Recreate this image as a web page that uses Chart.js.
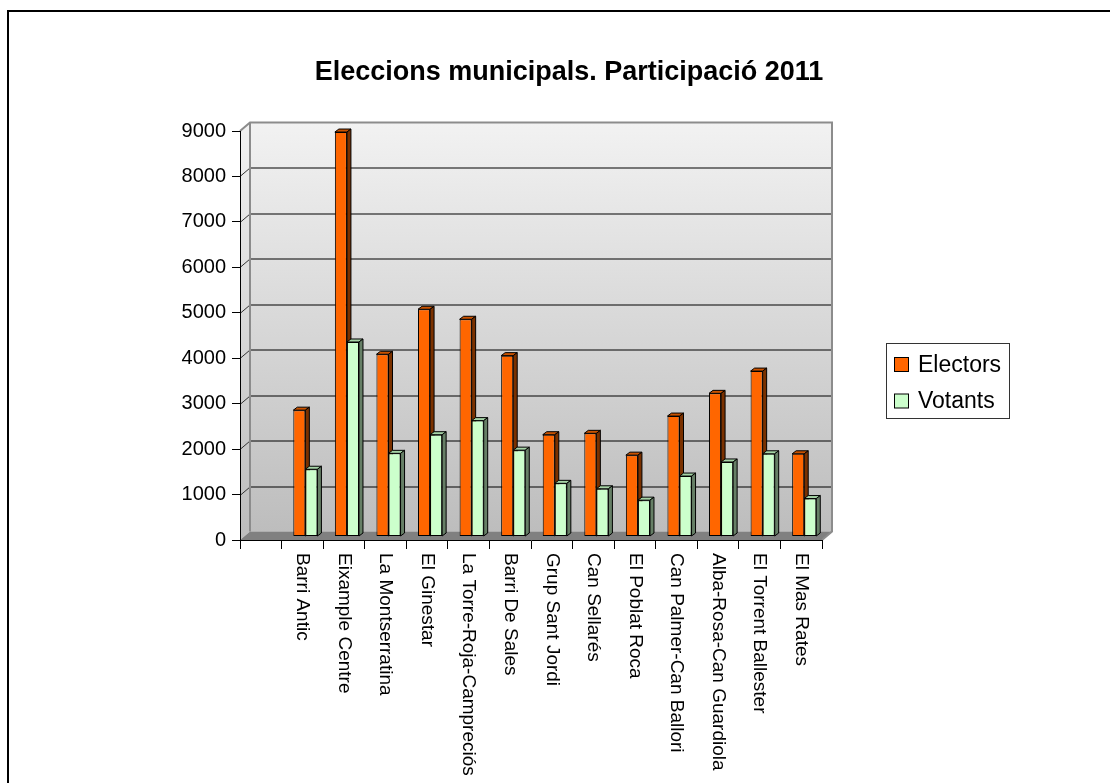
<!DOCTYPE html>
<html>
<head>
<meta charset="utf-8">
<script src="https://cdn.jsdelivr.net/npm/chart.js@4/dist/chart.umd.min.js"></script>
<style>
  body { margin: 0; background: #fff; }
  #wrap { width: 1110px; height: 783px; }
</style>
</head>
<body>
<div id="wrap"><canvas id="chart" width="1110" height="783"></canvas></div>
<script>
// chart data
const chartTitle = 'Eleccions municipals. Participació 2011';
const categories = ['', 'Barri Antic', 'Eixample Centre', 'La Montserratina', 'El Ginestar',
    'La Torre-Roja-Campreciós', 'Barri De Sales', 'Grup Sant Jordi', 'Can Sellarés',
    'El Poblat Roca', 'Can Palmer-Can Ballori', 'Alba-Rosa-Can Guardiola',
    'El Torrent Ballester', 'El Mas Rates'];
const electors = [null, 2780, 8900, 4010, 5000, 4780, 3980, 2240, 2270, 1790, 2650, 3150, 3640, 1820];
const votants = [null, 1480, 4280, 1830, 2240, 2550, 1900, 1170, 1050, 800, 1330, 1640, 1820, 835];
const yMax = 9000;
const yStep = 1000;

const FONT = '"Liberation Sans", Arial, sans-serif';

// 3d look: wall depth, bar shift and bar depth
const WALL = { dx: 10, dy: -8.5 };
const SHIFT = { dx: 3, dy: -3.5 };
const DEPTH = { dx: 4, dy: -3 };

const faceColors = [
    { top: '#c95200', side: '#7a3100' },
    { top: '#a6d4a6', side: '#667f66' }
];

function poly(ctx, pts, fill, stroke) {
    ctx.beginPath();
    ctx.moveTo(pts[0][0], pts[0][1]);
    for (let i = 1; i < pts.length; i++) ctx.lineTo(pts[i][0], pts[i][1]);
    ctx.closePath();
    if (fill) { ctx.fillStyle = fill; ctx.fill(); }
    if (stroke) { ctx.strokeStyle = stroke; ctx.lineWidth = 1; ctx.stroke(); }
}

// walls, floor and gridlines behind the bars
const walls = {
    id: 'walls',
    beforeDraw(chart) {
        const ctx = chart.ctx;
        const a = chart.chartArea;
        const y = chart.scales.y;
        const L = a.left, R = a.right, T = a.top, B = a.bottom;
        const dx = WALL.dx, dy = WALL.dy;
        ctx.save();

        // outer frame
        ctx.strokeStyle = '#000';
        ctx.lineWidth = 2;
        ctx.beginPath();
        ctx.moveTo(8, 800);
        ctx.lineTo(8, 11);
        ctx.lineTo(1120, 11);
        ctx.stroke();

        const g = ctx.createLinearGradient(0, T + dy, 0, B + dy);
        g.addColorStop(0, '#f2f2f2');
        g.addColorStop(1, '#bdbdbd');
        poly(ctx, [[L + dx, T + dy], [R + dx, T + dy], [R + dx, B + dy], [L + dx, B + dy]], g);
        poly(ctx, [[L, T], [L + dx, T + dy], [L + dx, B + dy], [L, B]], g);
        poly(ctx, [[L, B], [L + dx, B + dy], [R + dx, B + dy], [R, B]], '#808080');

        // gridlines on back wall
        ctx.lineWidth = 1;
        for (let v = yStep; v < yMax; v += yStep) {
            const py = Math.round(y.getPixelForValue(v)) + 0.5;
            ctx.strokeStyle = '#000';
            ctx.beginPath();
            ctx.moveTo(L + dx, py + dy);
            ctx.lineTo(R + dx, py + dy);
            ctx.stroke();
            ctx.strokeStyle = '#333';
            ctx.beginPath();
            ctx.moveTo(L, py);
            ctx.lineTo(L + dx, py + dy);
            ctx.stroke();
        }

        // wall edges
        ctx.strokeStyle = '#8c8c8c';
        ctx.lineWidth = 2;
        ctx.beginPath();
        ctx.moveTo(L, T);
        ctx.lineTo(L + dx, T + dy);
        ctx.lineTo(R + dx, T + dy);
        ctx.lineTo(R + dx, B + dy);
        ctx.lineTo(R, B);
        ctx.moveTo(L + dx, T + dy);
        ctx.lineTo(L + dx, B + dy);
        ctx.stroke();
        ctx.restore();
    }
};

// top and side faces of the bars, then shift the front faces
const bars3d = {
    id: 'bars3d',
    beforeDatasetsDraw(chart) {
        const ctx = chart.ctx;
        ctx.save();
        chart.data.datasets.forEach((ds, di) => {
            const meta = chart.getDatasetMeta(di);
            meta.data.forEach((bar, i) => {
                if (ds.data[i] == null) return;
                const p = bar.getProps(['x', 'y', 'base', 'width'], true);
                const l = p.x - p.width / 2 + SHIFT.dx;
                const r = p.x + p.width / 2 + SHIFT.dx;
                const t = p.y + SHIFT.dy;
                const b = p.base + SHIFT.dy;
                poly(ctx, [[l, t], [l + DEPTH.dx, t + DEPTH.dy], [r + DEPTH.dx, t + DEPTH.dy], [r, t]],
                    faceColors[di].top, '#000');
                poly(ctx, [[r, t], [r + DEPTH.dx, t + DEPTH.dy], [r + DEPTH.dx, b + DEPTH.dy], [r, b]],
                    faceColors[di].side, '#000');
            });
        });
        ctx.restore();
        ctx.save();
        ctx.translate(SHIFT.dx, SHIFT.dy);
    },
    afterDatasetsDraw(chart) {
        chart.ctx.restore();
    }
};

// title, category labels and legend box
const texts = {
    id: 'texts',
    afterDraw(chart) {
        const ctx = chart.ctx;
        const x = chart.scales.x;
        ctx.save();
        ctx.fillStyle = '#000';

        ctx.font = 'bold 27px ' + FONT;
        ctx.textAlign = 'center';
        ctx.textBaseline = 'alphabetic';
        ctx.fillText(chartTitle, 569, 80);

        ctx.font = '19px ' + FONT;
        ctx.textAlign = 'left';
        ctx.textBaseline = 'middle';
        categories.forEach((c, i) => {
            if (!c) return;
            const px = x.getPixelForValue(i);
            ctx.save();
            ctx.translate(px, 553);
            ctx.rotate(Math.PI / 2);
            ctx.fillText(c, 0, 0);
            ctx.restore();
        });

        // legend
        ctx.strokeStyle = '#333';
        ctx.lineWidth = 1;
        ctx.strokeRect(886.5, 343.5, 123, 75);
        ctx.font = '23px ' + FONT;
        chart.data.datasets.forEach((ds, i) => {
            const cy = 364.5 + i * 36.5;
            ctx.fillStyle = ds.backgroundColor;
            ctx.fillRect(894.5, cy - 7, 14, 14);
            ctx.strokeStyle = '#000';
            ctx.strokeRect(894.5, cy - 7, 14, 14);
            ctx.fillStyle = '#000';
            ctx.fillText(ds.label, 918, cy + 1);
        });
        ctx.restore();
    }
};

new Chart(document.getElementById('chart'), {
    type: 'bar',
    data: {
        labels: categories,
        datasets: [{
            label: 'Electors',
            data: electors,
            backgroundColor: '#ff6600',
            borderColor: '#000',
            borderWidth: 1,
            borderSkipped: false
        }, {
            label: 'Votants',
            data: votants,
            backgroundColor: '#ccffcc',
            borderColor: '#000',
            borderWidth: 1,
            borderSkipped: false
        }]
    },
    options: {
        responsive: false,
        animation: false,
        categoryPercentage: 0.58,
        barPercentage: 1.0,
        clip: false,
        layout: { padding: { top: 131, left: 0, right: 288, bottom: 0 } },
        plugins: {
            legend: { display: false },
            title: { display: false },
            tooltip: { enabled: false }
        },
        scales: {
            x: {
                grid: { drawOnChartArea: false, tickLength: 9, color: '#000', offset: true },
                border: { color: '#000', width: 1 },
                ticks: { display: false },
                afterFit(scale) { scale.height = 243; }
            },
            y: {
                min: 0,
                max: yMax,
                ticks: {
                    stepSize: yStep,
                    color: '#000',
                    padding: 6,
                    font: { size: 20, family: FONT },
                    callback: v => String(v)
                },
                grid: { drawOnChartArea: false, tickLength: 8, color: '#000' },
                border: { color: '#000', width: 1 },
                afterFit(scale) { scale.width = 240; }
            }
        }
    },
    plugins: [walls, bars3d, texts]
});
</script>
</body>
</html>
